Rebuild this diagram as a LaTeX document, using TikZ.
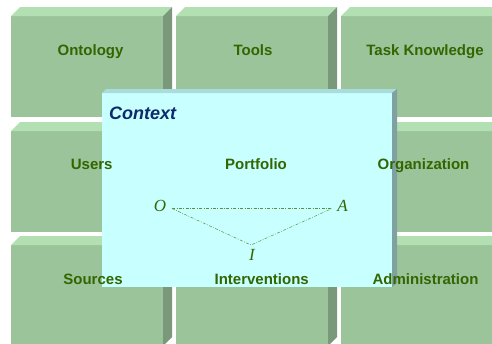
\documentclass[tikz,border=0pt]{standalone}
\usepackage{fontspec}
\setmainfont{Liberation Sans}
\newfontfamily\timesit{Liberation Serif}
\definecolor{frontg}{HTML}{9BC49B}
\definecolor{topg}{HTML}{B3E0B3}
\definecolor{sideg}{HTML}{7A997A}
\definecolor{panelf}{HTML}{C8FFFF}
\definecolor{panelt}{HTML}{A9DCDC}
\definecolor{panels}{HTML}{7FA1A1}
\definecolor{labg}{HTML}{336600}
\definecolor{navy}{HTML}{0F2A6B}
\definecolor{lineg}{HTML}{5E8F3E}
\tikzset{
  lab/.style={text=labg, font=\fontsize{15}{18}\selectfont\bfseries, inner sep=0pt, anchor=base},
  var/.style={text=labg, font=\fontsize{17}{20}\selectfont\timesit\itshape, inner sep=0pt},
  link/.style={draw=lineg, line width=0.5pt, dash pattern=on 3pt off 1.5pt on 0.8pt off 1.5pt},
}
\newcommand{\cube}[2]{%
  \fill[frontg] (#1,#2) rectangle ++(152,101);
  \fill[topg] (#1,#2) -- ++(9,-9) -- ++(152,0) -- ++(-9,9) -- cycle;
  \fill[sideg] (#1+152,#2) -- ++(9,-9) -- ++(0,101) -- ++(-9,9) -- cycle;
}
\begin{document}
\begin{tikzpicture}[x=1pt,y=-1pt]
\useasboundingbox (0,0) rectangle (492,343);
\begin{scope}
\clip (0,0) rectangle (492,343);
\foreach \yy in {16,131,245}{
  \foreach \xx in {11,176,341}{
    \cube{\xx}{\yy}
  }
}
% context panel
\fill[panelf] (102,93) rectangle (392,287);
\fill[panelt] (102,93) -- (106,89) -- (397,89) -- (392,93) -- cycle;
\fill[panels] (392,93) -- (397,89) -- (397,283) -- (392,287) -- cycle;
\end{scope}
\node[anchor=west, text=navy, font=\fontsize{18}{21}\selectfont\bfseries\itshape, inner sep=0pt] (ctx) at (109,113) {Context};
\node[lab] (ont) at (90.5,55.4) {Ontology};
\node[lab] (tools) at (253,55.4) {Tools};
\node[lab] (task) at (425,55.4) {Task Knowledge};
\node[lab] (users) at (91.7,169.4) {Users};
\node[lab] (port) at (256,169.4) {Portfolio};
\node[lab] (org) at (423.5,169.4) {Organization};
\node[lab] (src) at (93,284.4) {Sources};
\node[lab] (int) at (261.7,284.4) {Interventions};
\node[lab] (adm) at (425.5,284.4) {Administration};
\node[var] (O) at (160,206) {O};
\node[var] (A) at (342.5,206) {A};
\node[var] (I) at (252,255) {I};
\coordinate (oe) at (172,208.5);
\coordinate (aw) at (332,208.5);
\coordinate (apex) at (251,245);
\draw[link] (oe) -- (aw);
\draw[link] (oe) -- (apex) -- (aw);
\end{tikzpicture}
\end{document}
